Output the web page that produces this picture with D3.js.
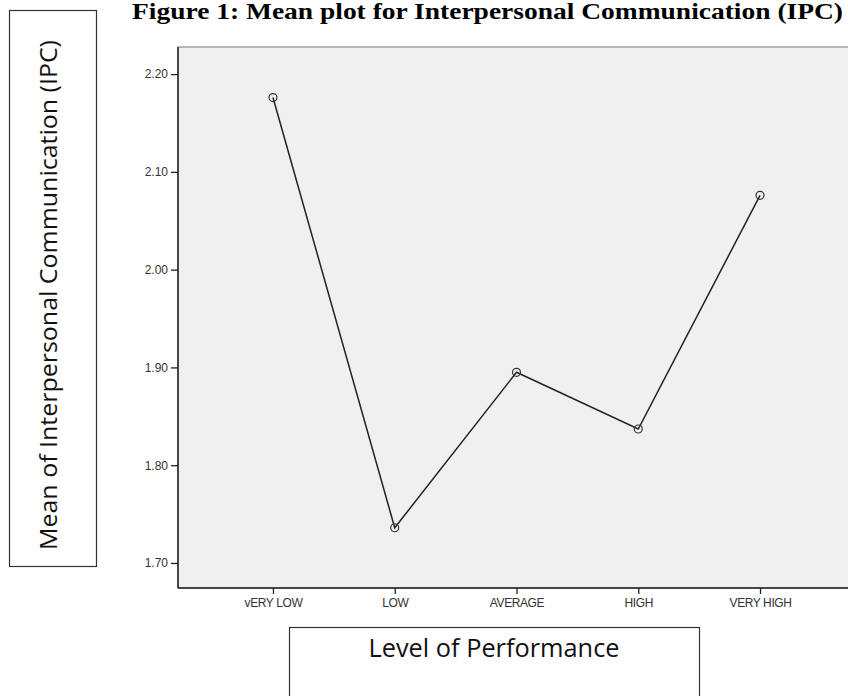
<!DOCTYPE html>
<html>
<head>
  <title>Mean plot for Interpersonal Communication</title>
  <script src="https://d3js.org/d3.v7.min.js"></script>
  <style>
    body { margin: 0; background: #fff; }
  </style>
</head>
<body>
  <script>

// data
const levels = ["vERY LOW", "LOW", "AVERAGE", "HIGH", "VERY HIGH"];
const means = [2.176, 1.736, 1.895, 1.837, 2.076];
const yTicks = [1.70, 1.80, 1.90, 2.00, 2.10, 2.20];
const yExtent = [1.6744, 2.2277];

const W = 848, H = 696;
const plot = { left: 178, top: 47, right: 855, bottom: 588 };
const serif = "'Liberation Serif', 'Times New Roman', serif";
const sans = "'Liberation Sans', Arial, sans-serif";
const labelFont = "'Open Sans', 'Noto Sans', sans-serif";

const svg = d3.select("body")
  .append("svg")
  .attr("width", W)
  .attr("height", H);

const x = d3.scalePoint()
  .domain(levels)
  .range([plot.left, plot.right])
  .padding(0.78);

const y = d3.scaleLinear()
  .domain(yExtent)
  .range([plot.bottom, plot.top]);

// title
svg.append("text")
  .attr("x", 132)
  .attr("y", 19)
  .attr("font-family", serif)
  .attr("font-weight", "bold")
  .attr("font-size", 23)
  .attr("textLength", 711)
  .attr("lengthAdjust", "spacingAndGlyphs")
  .text("Figure 1: Mean plot for Interpersonal Communication (IPC)");

// plot background
svg.append("rect")
  .attr("x", plot.left)
  .attr("y", plot.top)
  .attr("width", plot.right - plot.left)
  .attr("height", plot.bottom - plot.top)
  .attr("fill", "#f0f0f0")
  .attr("stroke", "#777")
  .attr("stroke-width", 1);

// axes
const yAxis = svg.append("g")
  .attr("transform", `translate(${plot.left},0)`)
  .call(d3.axisLeft(y).tickValues(yTicks).tickFormat(d3.format(".2f")).tickSize(7).tickSizeOuter(0));

const xAxis = svg.append("g")
  .attr("transform", `translate(0,${plot.bottom})`)
  .call(d3.axisBottom(x).tickSize(6).tickSizeOuter(0));

[yAxis, xAxis].forEach(g => {
  g.select(".domain").attr("stroke", "#222").attr("stroke-width", 1.5);
  g.selectAll(".tick line").attr("stroke", "#222").attr("stroke-width", 1.3);
  g.selectAll(".tick text")
    .attr("fill", "#333")
    .attr("font-family", sans)
    .attr("font-size", 12);
});
yAxis.select(".domain").attr("d", `M0,${plot.top}V${plot.bottom}`);
xAxis.select(".domain").attr("d", `M${plot.left},0H${plot.right}`);
yAxis.selectAll(".tick text").attr("x", -10);
xAxis.selectAll(".tick text").attr("y", 10).attr("letter-spacing", -0.4);

// mean line and markers
const pts = levels.map((l, i) => [x(l), y(means[i])]);

svg.append("path")
  .attr("d", d3.line()(pts))
  .attr("fill", "none")
  .attr("stroke", "#222")
  .attr("stroke-width", 1.5);

svg.selectAll(".pt")
  .data(pts)
  .enter().append("circle")
  .attr("class", "pt")
  .attr("cx", d => d[0])
  .attr("cy", d => d[1])
  .attr("r", 4)
  .attr("fill", "none")
  .attr("stroke", "#333")
  .attr("stroke-width", 1.2);

// y axis label box
svg.append("rect")
  .attr("x", 9.5)
  .attr("y", 10.5)
  .attr("width", 87)
  .attr("height", 556)
  .attr("fill", "none")
  .attr("stroke", "#333")
  .attr("stroke-width", 1.2);

svg.append("text")
  .attr("transform", "translate(57,295) rotate(-90)")
  .attr("text-anchor", "middle")
  .attr("font-family", labelFont)
  .attr("font-size", 23)
  .attr("textLength", 510)
  .attr("lengthAdjust", "spacingAndGlyphs")
  .attr("fill", "#111")
  .text("Mean of Interpersonal Communication (IPC)");

// x axis label box
svg.append("rect")
  .attr("x", 289.5)
  .attr("y", 627.5)
  .attr("width", 410)
  .attr("height", 80)
  .attr("fill", "none")
  .attr("stroke", "#333")
  .attr("stroke-width", 1.2);

svg.append("text")
  .attr("x", 494)
  .attr("y", 657)
  .attr("text-anchor", "middle")
  .attr("font-family", labelFont)
  .attr("font-size", 26)
  .attr("textLength", 251)
  .attr("lengthAdjust", "spacingAndGlyphs")
  .attr("fill", "#111")
  .text("Level of Performance");

  </script>
</body>
</html>
